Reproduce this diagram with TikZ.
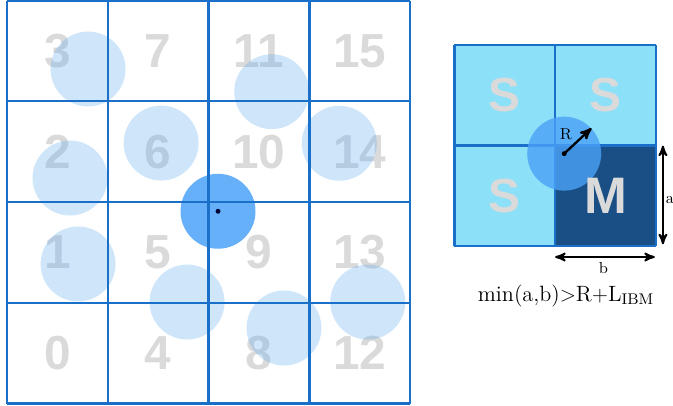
\documentclass[tikz,border=0pt]{standalone}
\usepackage{fontspec}
\newfontfamily\cellfont{Liberation Sans}
\usepackage{tikz}
\usetikzlibrary{arrows}
\definecolor{gridblue}{HTML}{1A6FC8}
\definecolor{cellgray}{HTML}{DADADA}
\definecolor{partblue}{HTML}{4AA2F7}
\definecolor{haloblue}{HTML}{60AAF0}
\definecolor{slavecyan}{HTML}{8CE0F8}
\definecolor{masterblue}{HTML}{1A4F86}
\tikzset{
  cellnum/.style={text=cellgray, font=\cellfont\bfseries\fontsize{27}{27}\selectfont},
  ghost/.style={fill=haloblue, fill opacity=.3},
  particle/.style={fill=partblue, fill opacity=.85},
  small label/.style={font=\fontsize{9}{9}\selectfont, inner sep=1pt},
}

\begin{document}
\begin{tikzpicture}[>=stealth',x=2cm,y=2cm]
 
                        \useasboundingbox (-0.07,-0.015) rectangle (6.61,4.005);
                        % cell numbers
                        \foreach \c in {0,...,3} {
                          \foreach \r in {0,...,3} {
                            \pgfmathtruncatemacro{\n}{4*\c+\r}
                            \node[cellnum] (n\n) at (\c+.5,\r+.5) {\n};
                          }
                        }
                         
                        \def\ghosts{{%
                        {0.804,3.320},
                        {1.529,2.585},
                        {0.625,2.238},
                        {2.627,3.095},
                        {3.298,2.583},
                        {0.705,1.385},
                        {1.787,1.007},
                        {2.749,0.749},
                        {3.580,1.007},
                        }}
                         
                        % \draw ghost particles
                        \foreach \i in {0,...,8} {
                          \pgfmathparse{\ghosts[\i][0]}\let \x \pgfmathresult;
                          \pgfmathparse{\ghosts[\i][1]}\let \y \pgfmathresult;
                          \fill[ghost] (\x,\y) circle (0.372);
                        }
                         
                        % \draw particle
                        \fill[particle] (2.094,1.908) circle (0.372);
                        \fill[black!80!blue] (2.094,1.908) circle (1.4pt);
                         
                        % \draw grid
                        \draw[gridblue, line width=1.4pt, step=2cm] (0,0) grid (4,4);
                         
                        \begin{scope}[shift={(4.44,1.56)}]
                          % \draw cells
                          \fill[slavecyan] (0,0) rectangle (2,2);
                          \fill[masterblue] (1,0) rectangle (2,1);
                          \draw[gridblue, line width=1.3pt, step=2cm] (0,0) grid (2,2);
                          % \draw particle
                          \fill[partblue, fill opacity=.8] (1.09,0.92) circle (0.367);
                          \node[cellnum] (s1) at (0.5,1.5) {S};
                          \node[cellnum] (s2) at (1.5,1.5) {S};
                          \node[cellnum] (s3) at (0.5,0.5) {S};
                          \node[cellnum, font=\cellfont\bfseries\fontsize{29}{29}\selectfont] (m) at (1.5,0.5) {M};
                          % \draw radius
                          \coordinate (ctr) at (1.09,0.92);
                          \path (ctr) ++(43:0.37) coordinate (rim);
                          \fill[black] (ctr) circle (1.4pt);
                          \draw[->, line width=1.3pt] (ctr) -- (rim);
                          \node[small label] (rlab) at (1.108,1.112) {R};
                          % \draw sizes
                          \coordinate (a1) at (2.07,1);
                          \coordinate (a2) at (2.07,0.02);
                          \coordinate (b1) at (1,-0.106);
                          \coordinate (b2) at (1.99,-0.106);
                          \draw[<->, line width=1.1pt] (a1) -- (a2);
                          \draw[<->, line width=1.1pt] (b1) -- (b2);
                          \node[small label] (alab) at (2.14,0.46) {a};
                          \node[small label] (blab) at (1.48,-0.22) {b};
                          \node[font=\fontsize{12.5}{14}\selectfont] (rule) at (1.108,-0.493)
                            {min(a,b)$\mathrm{{>}R{+}L}_{\mathrm{IBM}}$};
                        \end{scope}
                         
\end{tikzpicture}
\end{document}
